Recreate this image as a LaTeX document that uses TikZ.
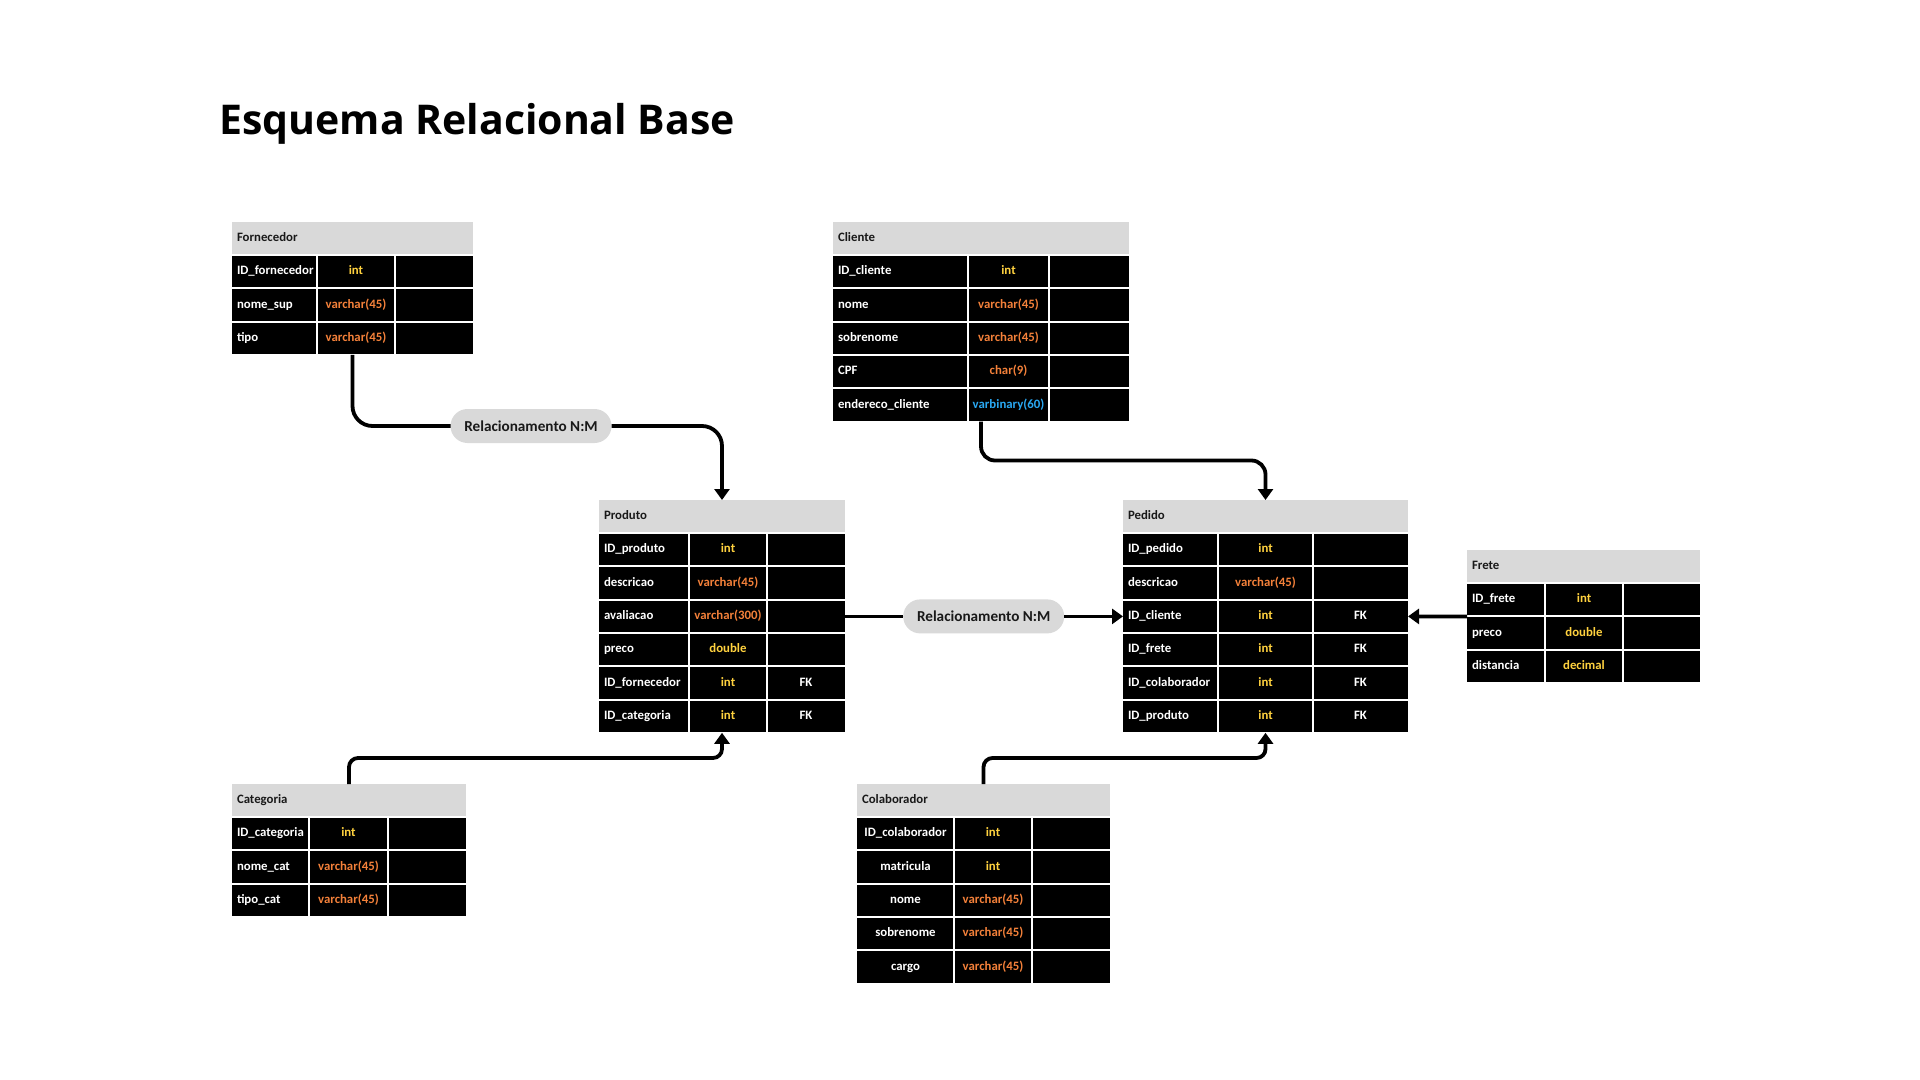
\documentclass[tikz,border=0pt]{standalone}
\usepackage{fontspec}
\usetikzlibrary{arrows.meta,shapes.misc}
\newfontfamily\carlito{Carlito}
\newfontfamily\titlefont{Open Sans}
\definecolor{hdr}{HTML}{D9D9D9}
\definecolor{yel}{HTML}{FFD23F}
\definecolor{ora}{HTML}{F4813A}
\definecolor{blu}{HTML}{2AA8F2}
\tikzset{
  cell/.style={inner sep=0pt, outer sep=0pt, text=white, text height=4.6pt, text depth=1.4pt, font=\carlito\bfseries\fontsize{6.4pt}{7pt}\selectfont},
  hdrtxt/.style={cell, text=black!90},
  col1-0/.style={anchor=west},
  col1-1/.style={anchor=center},
  conn/.style={line width=1.9pt},
  tip/.style={-{Triangle[length=5.5pt,width=7.5pt]}},
  pill/.style={rounded rectangle, fill=hdr, minimum width=80.5pt, minimum height=17pt, inner sep=0pt, outer sep=0pt, text=black!90, font=\carlito\bfseries\fontsize{7.6pt}{9pt}\selectfont},
  tblframe/.style={inner sep=0pt, outer sep=0pt, anchor=north west},
}
\def\colalign{0}
% #1 name, #2 x0, #3 y0, #4 w1, #5 w2, #6 w3, #7 title, #8 rows
\newcommand\erTable[8]{%
  \pgfmathsetmacro\xa{#2}%
  \pgfmathsetmacro\xb{#2+#4}%
  \pgfmathsetmacro\xc{#2+#4+#5}%
  \pgfmathsetmacro\xd{#2+#4+#5+#6}%
  \pgfmathsetmacro\yh{#3+33}%
  \fill[hdr] (\xa,#3) rectangle (\xd,\yh-1);
  \node[hdrtxt, anchor=west] (#1-title) at (\xa+5,#3+16.5) {#7};
  \foreach \ca/\cb/\cc/\cd [count=\i from 0] in {#8} {
    \pgfmathsetmacro\ytop{\yh+\i*33.3}
    \pgfmathsetmacro\ybot{\ytop+33.3}
    \pgfmathsetmacro\ymid{\ytop+16.65}
    \pgfmathsetmacro\xt{\xa+5+\colalign*(0.5*#4-5)}
    \fill[black] (\xa,\ytop+1) rectangle (\xb-1,\ybot-1);
    \fill[black] (\xb+1,\ytop+1) rectangle (\xc-1,\ybot-1);
    \fill[black] (\xc+1,\ytop+1) rectangle (\xd,\ybot-1);
    \node[cell, col1-\colalign] (#1-\i-a) at (\xt,\ymid) {\ca};
    \node[cell, text=\cb] (#1-\i-b) at ({(\xb+\xc)/2},\ymid) {\cc};
    \node[cell] (#1-\i-c) at ({(\xc+\xd)/2},\ymid) {\cd};
    \xdef\nrows{\i}
  }
  \pgfmathsetmacro\tw{(#4+#5+#6)*0.5}%
  \pgfmathsetmacro\th{(33+(\nrows+1)*33.3)*0.5}%
  \node[tblframe, minimum width=\tw pt, minimum height=\th pt] (#1) at (\xa,#3) {};
}
\begin{document}
\begin{tikzpicture}[x=0.5pt,y=-0.5pt]
\fill[white] (0,0) rectangle (1920,1080);
\useasboundingbox (0,0) rectangle (1920,1080);

\node[anchor=base west, inner sep=0pt, font=\titlefont\bfseries\fontsize{20.5pt}{25pt}\selectfont] (title) at (219,135) {Esquema Relacional Base};

\erTable{forn}{232}{222}{85}{78}{78}{Fornecedor}{%
  ID\_fornecedor/yel/int/{},
  nome\_sup/ora/varchar(45)/{},
  tipo/ora/varchar(45)/{}}

\erTable{cli}{833}{222}{135}{81}{80}{Cliente}{%
  ID\_cliente/yel/int/{},
  nome/ora/varchar(45)/{},
  sobrenome/ora/varchar(45)/{},
  CPF/ora/char(9)/{},
  endereco\_cliente/blu/varbinary(60)/{}}

\erTable{prod}{599}{500}{90}{78}{78}{Produto}{%
  ID\_produto/yel/int/{},
  descricao/ora/varchar(45)/{},
  avaliacao/ora/varchar(300)/{},
  preco/yel/double/{},
  ID\_fornecedor/yel/int/FK,
  ID\_categoria/yel/int/FK}

\erTable{ped}{1123}{500}{95}{95}{95}{Pedido}{%
  ID\_pedido/yel/int/{},
  descricao/ora/varchar(45)/{},
  ID\_cliente/yel/int/FK,
  ID\_frete/yel/int/FK,
  ID\_colaborador/yel/int/FK,
  ID\_produto/yel/int/FK}

\erTable{frete}{1467}{550}{78}{78}{77}{Frete}{%
  ID\_frete/yel/int/{},
  preco/yel/double/{},
  distancia/yel/decimal/{}}

\erTable{cat}{232}{784}{77}{79}{78}{Categoria}{%
  ID\_categoria/yel/int/{},
  nome\_cat/ora/varchar(45)/{},
  tipo\_cat/ora/varchar(45)/{}}

\def\colalign{1}
\erTable{colab}{857}{784}{97}{78}{78}{Colaborador}{%
  ID\_colaborador/yel/int/{},
  matricula/yel/int/{},
  nome/ora/varchar(45)/{},
  sobrenome/ora/varchar(45)/{},
  cargo/ora/varchar(45)/{}}
\def\colalign{0}

\node[pill] (rel1) at (531,426) {Relacionamento N:M};
\node[pill] (rel2) at (983.7,616.4) {Relacionamento N:M};

\draw[conn, rounded corners=10pt] (forn.south) |- (rel1.west);
\draw[conn, tip, rounded corners=10pt] (rel1.east) -| (prod.north);
\draw[conn, tip, rounded corners=7pt] (cli.south) -- ++(0,39) -| (ped.north);
\draw[conn] (prod.east) -- (rel2.west);
\draw[conn, tip] (rel2.east) -- (ped.west);
\draw[conn, tip] (frete.west) -- (ped.east);
\draw[conn, tip, rounded corners=4.5pt] (cat.north) -- ++(0,-26) -| (prod.south);
\draw[conn, tip, rounded corners=4.5pt] (colab.north) -- ++(0,-26) -| (ped.south);
\end{tikzpicture}
\end{document}
